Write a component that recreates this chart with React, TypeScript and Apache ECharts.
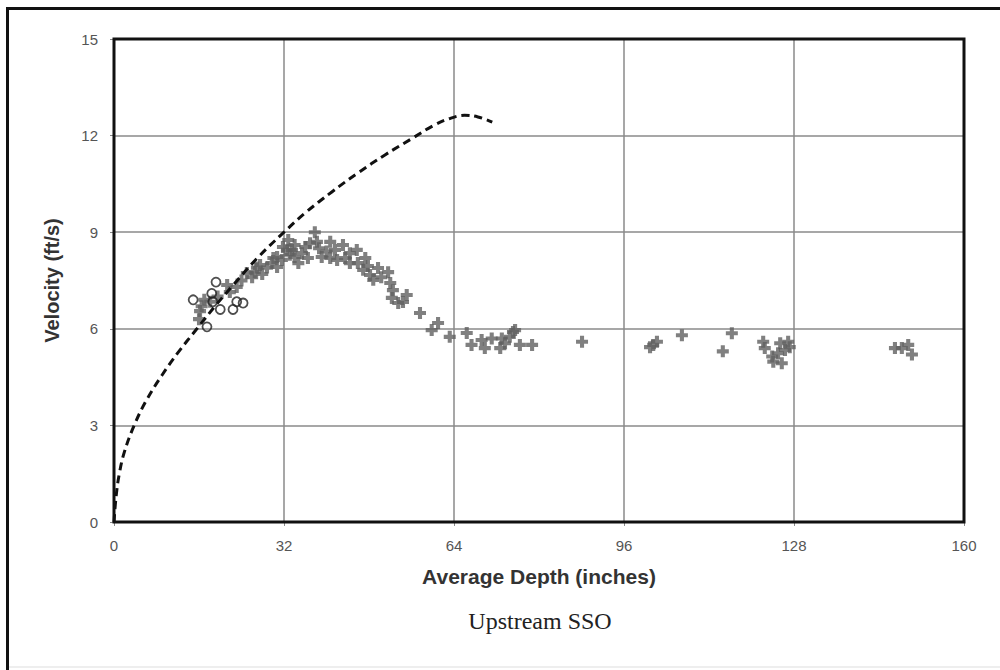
import React, { useEffect, useRef } from "react";
import * as echarts from "echarts";

const xTicks = [0, 32, 64, 96, 128, 160];
const yTicks = [0, 3, 6, 9, 12, 15];

const crossDepth = [
  16.0, 16.2, 16.5, 17.0, 18.1, 19.5, 21.3, 21.8, 23.1, 24.0, 25.0, 26.0, 26.5, 26.9, 27.5, 27.9,
  28.8, 29.7, 30.0, 30.7, 30.7, 31.6, 31.8, 32.6, 32.8, 33.1, 33.5, 34.0, 34.0, 34.7, 35.4, 36.0,
  36.5, 36.9, 37.8, 38.2, 38.6, 39.1, 40.0, 40.7, 40.7, 41.6, 42.0, 43.1, 43.5, 44.4, 44.4, 45.7,
  45.9, 46.9, 47.3, 47.8, 48.2, 48.8, 49.7, 50.3, 51.6, 52.0, 52.5, 52.3, 53.5, 54.4, 55.1, 57.6,
  59.8, 61.0, 63.2, 66.4, 67.3, 69.2, 69.8, 71.1, 72.7, 73.0, 73.6, 74.5, 75.1, 75.5, 76.4, 78.7,
  88.1, 100.9, 101.5, 102.2, 106.9, 114.6, 116.3, 122.2, 122.5, 123.9, 124.1, 125.0, 125.4, 125.7,
  126.3, 126.9, 127.2, 147.0, 148.3, 149.5, 150.2,
];
const crossVelocity = [
  6.3, 6.55, 6.7, 6.9, 6.84, 7.0, 7.36, 7.14, 7.3, 7.5, 7.73, 7.6, 7.76, 7.9, 7.98, 7.7,
  7.9, 8.04, 8.2, 7.92, 8.23, 8.14, 8.54, 8.45, 8.76, 8.3, 8.45, 8.23, 8.6, 8.04, 8.35, 8.54,
  8.2, 8.66, 9.0, 8.7, 8.5, 8.23, 8.4, 8.7, 8.2, 8.45, 8.14, 8.6, 8.2, 8.35, 8.04, 8.45,
  8.04, 7.83, 8.2, 7.95, 7.67, 7.52, 7.89, 7.6, 7.76, 7.42, 7.2, 6.96, 6.8, 6.83, 7.05, 6.49,
  5.96, 6.18, 5.75, 5.87, 5.5, 5.65, 5.4, 5.7, 5.4, 5.7, 5.55, 5.75, 5.9, 5.96, 5.5, 5.5,
  5.6, 5.43, 5.5, 5.6, 5.8, 5.3, 5.86, 5.6, 5.4, 5.14, 4.98, 5.24, 5.55, 4.93,
  5.34, 5.6, 5.43, 5.4, 5.4, 5.5, 5.2,
];

const circleDepth = [19.2, 14.9, 18.4, 20.0, 17.5, 22.4, 24.3, 23.1, 18.6];
const circleVelocity = [7.45, 6.9, 7.1, 6.6, 6.06, 6.6, 6.8, 6.84, 6.84];

const curveDepth = [
  0, 0.4, 1, 2, 3.8, 6, 9, 12, 15.6, 19, 22.4, 27, 32, 36, 41, 46, 51, 56, 60, 63, 66, 68.5, 71.2,
];
const curveVelocity = [
  0, 0.8, 1.5, 2.2, 3.0, 3.75, 4.55, 5.25, 6.0, 6.7, 7.35, 8.2, 9.0, 9.6, 10.25, 10.85, 11.4, 11.9,
  12.3, 12.52, 12.63, 12.58, 12.42,
];

const zip = (a: number[], b: number[]) => a.map((v, i) => [v, b[i]]);

const plusPath = "path://M3.3,0 H6.7 V3.3 H10 V6.7 H6.7 V10 H3.3 V6.7 H0 V3.3 H3.3 Z";

export default function App() {
  const ref = useRef<HTMLDivElement>(null);
  useEffect(() => {
    if (!ref.current) return;
    const chart = echarts.init(ref.current, null, { renderer: "svg" });
    chart.setOption({
      animation: false,
      backgroundColor: "#ffffff",
      grid: {
        left: 114,
        top: 39,
        width: 850,
        height: 483,
        show: false,
      },
      xAxis: {
        type: "value",
        min: xTicks[0],
        max: xTicks[xTicks.length - 1],
        interval: 32,
        name: "Average Depth (inches)",
        nameLocation: "middle",
        nameGap: 44,
        nameTextStyle: { fontFamily: "Liberation Sans, Arial", fontWeight: "bold", fontSize: 21, color: "#333" },
        axisLine: { show: false },
        axisTick: { show: true, length: 4, lineStyle: { color: "#888" } },
        axisLabel: { margin: 16, fontFamily: "Liberation Sans, Arial", fontSize: 15, color: "#555" },
        splitLine: { show: true, lineStyle: { color: "#8a8a8a", width: 1.5 } },
      },
      yAxis: {
        type: "value",
        min: yTicks[0],
        max: yTicks[yTicks.length - 1],
        interval: 3,
        name: "Velocity (ft/s)",
        nameLocation: "middle",
        nameGap: 52,
        nameTextStyle: { fontFamily: "Liberation Sans, Arial", fontWeight: "bold", fontSize: 20, color: "#333" },
        axisLine: { show: false },
        axisTick: { show: true, length: 4, lineStyle: { color: "#888" } },
        axisLabel: { margin: 16, fontFamily: "Liberation Sans, Arial", fontSize: 15, color: "#555" },
        splitLine: { show: true, lineStyle: { color: "#8a8a8a", width: 1.5 } },
      },
      graphic: [
        { type: "line", shape: { x1: 7.5, y1: 7, x2: 7.5, y2: 670 }, style: { stroke: "#111", lineWidth: 3 } },
        { type: "line", shape: { x1: 6, y1: 8.5, x2: 1000, y2: 8.5 }, style: { stroke: "#111", lineWidth: 3 } },
        { type: "line", shape: { x1: 9, y1: 667, x2: 1000, y2: 667 }, style: { stroke: "#ddd", lineWidth: 1 } },
        {
          type: "rect",
          z: 100,
          shape: { x: 114, y: 39, width: 850, height: 483 },
          style: { fill: "none", stroke: "#111", lineWidth: 3 },
          silent: true,
        },
        {
          type: "text",
          x: 540,
          y: 621,
          style: {
            text: "Upstream SSO",
            font: '24px "Liberation Serif", "Times New Roman", serif',
            fill: "#222",
            textAlign: "center",
            textVerticalAlign: "middle",
          },
        },
      ],
      series: [
        {
          type: "scatter",
          data: zip(crossDepth, crossVelocity),
          symbol: plusPath,
          symbolSize: 12,
          itemStyle: { color: "#606060" },
          z: 2,
        },
        {
          type: "scatter",
          data: zip(circleDepth, circleVelocity),
          symbol: "circle",
          symbolSize: 9,
          itemStyle: { color: "rgba(0,0,0,0)", borderColor: "#222", borderWidth: 1.8 },
          z: 3,
        },
        {
          type: "line",
          data: zip(curveDepth, curveVelocity),
          smooth: 0.4,
          showSymbol: false,
          lineStyle: { color: "#111", width: 3, type: [8, 5] },
          z: 4,
        },
      ],
    });
    return () => chart.dispose();
  }, []);
  return (
    <div
      ref={ref}
      style={{ position: "fixed", left: 0, top: 0, width: 1000, height: 670, background: "#fff" }}
    />
  );
}
